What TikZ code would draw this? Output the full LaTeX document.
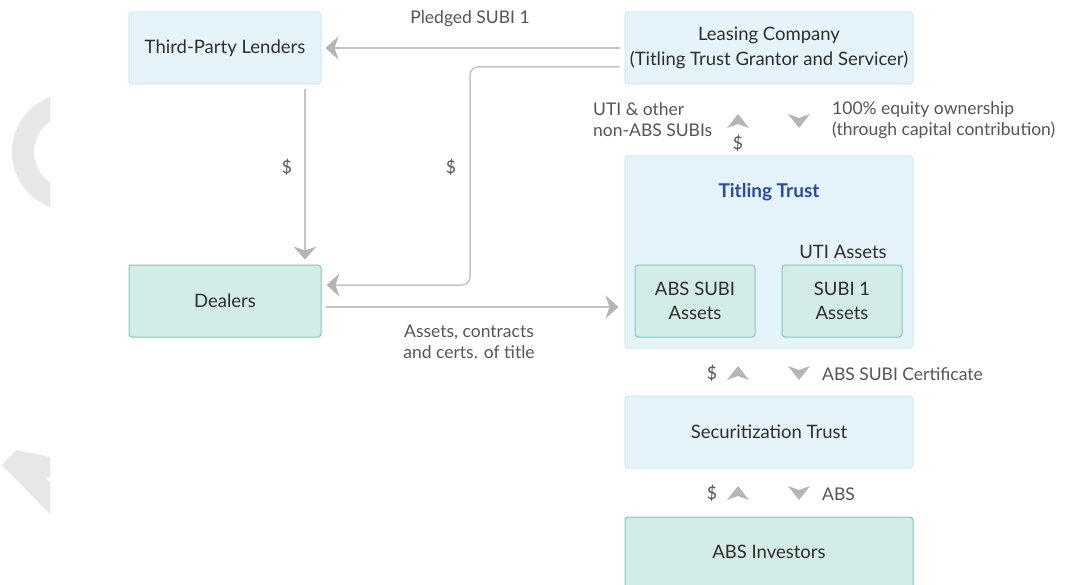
\documentclass[tikz,border=0pt]{standalone}
\usepackage{fontspec}
\setmainfont{Lato}
\usetikzlibrary{arrows.meta,calc}
\definecolor{lblue}{HTML}{E5F3FA}
\definecolor{lbluedraw}{HTML}{CFE8F3}
\definecolor{lteal}{HTML}{D4ECE8}
\definecolor{ltealdraw}{HTML}{86C6C0}
\definecolor{linegray}{HTML}{C4C4C4}
\definecolor{arrgray}{HTML}{B5B5B7}
\definecolor{txt}{HTML}{2E2E2E}
\definecolor{lbl}{HTML}{555555}
\definecolor{ttblue}{HTML}{2C4AA0}
\definecolor{deco}{HTML}{E6E7E9}
\begin{document}
\begin{tikzpicture}[x=1pt,y=-1pt,
  bluebox/.style={draw=lbluedraw, fill=lblue, rounded corners=3pt, line width=1pt, inner sep=0pt, align=center, text=txt, font=\fontsize{18.5}{24.5}\selectfont},
  tealbox/.style={bluebox, draw=ltealdraw, fill=lteal},
  conn/.style={draw=linegray, line width=1.5pt, -{Stealth[length=13pt,width=23pt,inset=4pt,fill=arrgray,color=arrgray]}},
  lab/.style={text=lbl, font=\fontsize{17.5}{21}\selectfont, inner sep=0pt},
  uparr/.pic={\fill[arrgray] (-11,7) -- (0,-7) -- (11,7) -- (0,3) -- cycle;},
  dnarr/.pic={\fill[arrgray] (-11,-7) -- (0,7) -- (11,-7) -- (0,-3) -- cycle;},
]
\useasboundingbox (0,0) rectangle (1070,585);
\fill[white] (0,0) rectangle (1070,585);
% decorations
\begin{scope}
\clip (0,0) rectangle (50,585);
\fill[deco, even odd rule] (71,152) circle[radius=59] (71,152) circle[radius=37];
\end{scope}
\fill[deco] (16,450) -- (50,457) -- (50,477) -- (45,477) -- (50,482) -- (50,514) -- (2,465) -- cycle;

% boxes
\node[bluebox, minimum width=192pt, minimum height=72pt] (third) at (225,48) {Third-Party Lenders};
\node[bluebox, minimum width=288pt, minimum height=72pt] (leasing) at (769,48) {Leasing Company\\(Titling Trust Grantor and Servicer)};
\node[tealbox, minimum width=192pt, minimum height=72pt] (dealers) at (225,301) {Dealers};
\node[bluebox, minimum width=288pt, minimum height=192pt] (titling) at (769,252) {};
\node[text=ttblue, font=\fontsize{19}{23}\selectfont\bfseries, inner sep=0pt] (tttitle) at (769,192) {Titling Trust};
\node[text=txt, font=\fontsize{18.5}{23}\selectfont, inner sep=0pt] (utiassets) at (843,252) {UTI Assets};
\node[tealbox, minimum width=120pt, minimum height=72pt] (abssubi) at (695,301) {ABS SUBI\\Assets};
\node[tealbox, minimum width=120pt, minimum height=72pt] (subi1) at (842,301) {SUBI 1\\Assets};
\node[bluebox, minimum width=288pt, minimum height=72pt] (sectrust) at (769,432) {Securitization Trust};
\node[tealbox, minimum width=288pt, minimum height=80pt] (investors) at (769,557) {};
\node[text=txt, font=\fontsize{18.5}{23}\selectfont, inner sep=0pt] (invlabel) at (769,552) {ABS Investors};

% connectors
\coordinate (c1s) at ($(leasing.west)+(-5,19)$);
\coordinate (c1a) at (470,67);
\coordinate (c1b) at (470,285);
\coordinate (c1e) at ($(dealers.east)+(5,-16)$);
\draw[conn, shorten <=5pt, shorten >=4pt] (leasing.west) -- (third.east);
\draw[conn, rounded corners=8pt] (c1s) -- (c1a) -- (c1b) -- (c1e);
\coordinate (c2s) at ($(third.south)+(80,5)$);
\coordinate (c2e) at ($(dealers.north)+(80,-5)$);
\draw[conn] (c2s) -- (c2e);
\coordinate (c3s) at ($(dealers.east)+(4,6)$);
\coordinate (c3e) at ($(titling.west|-c3s)+(-6,0)$);
\draw[conn] (c3s) -- (c3e);

% free arrowheads
\pic at (738,121) {uparr};
\pic at (799,121) {dnarr};
\pic at (738,373) {uparr};
\pic at (799,373) {dnarr};
\pic at (738,493) {uparr};
\pic at (799,493) {dnarr};

% labels
\node[lab] (lpledged) at (470,19) {Pledged SUBI 1};
\node[lab] (ld1) at (287,167) {\$};
\node[lab] (ld2) at (451,167) {\$};
\node[lab, align=center] (lassets) at (469,342) {Assets, contracts\\and certs. of title};
\node[lab, align=left, anchor=west] (luti) at (593,120) {UTI \& other\\non-ABS SUBIs};
\node[lab] (ld3) at (738,143) {\$};
\node[lab, align=left, anchor=west] (lequity) at (832,120) {100\% equity ownership\\(through capital contribution)};
\node[lab] (ld4) at (712,373) {\$};
\node[lab, anchor=west] (lcert) at (822,374) {ABS SUBI Certificate};
\node[lab] (ld5) at (712,493) {\$};
\node[lab, anchor=west] (labs) at (822,494) {ABS};
\end{tikzpicture}
\end{document}
